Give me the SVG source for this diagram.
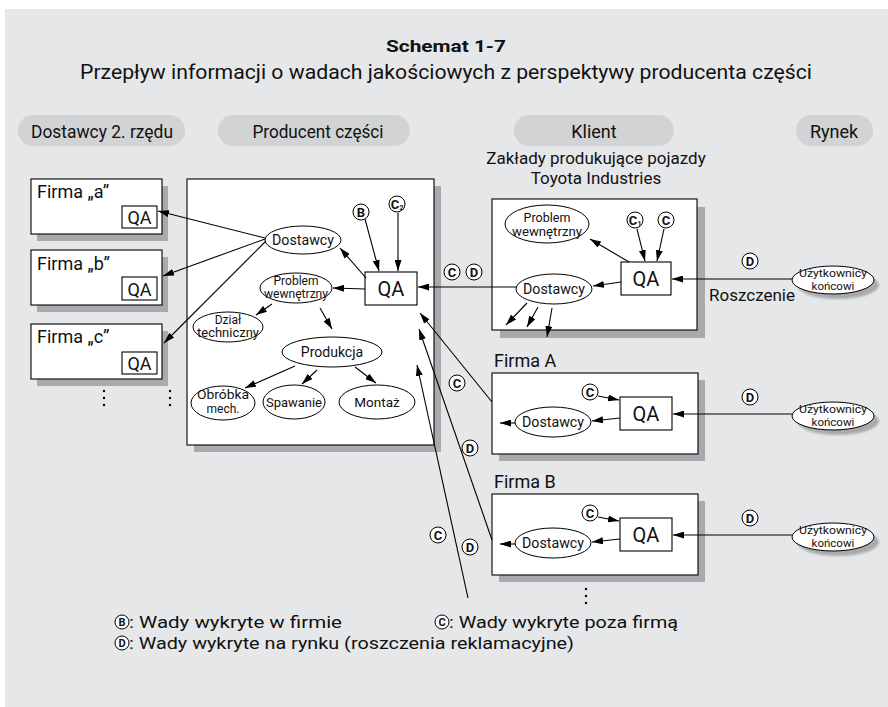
<svg xmlns="http://www.w3.org/2000/svg" width="888" height="707" viewBox="0 0 888 707">
<defs>
<marker id="ah" markerUnits="userSpaceOnUse" markerWidth="11" markerHeight="7" refX="11" refY="3.5" orient="auto">
<path d="M0,0 L11,3.5 L0,7 z" fill="#000"/>
</marker>
<filter id="blur" x="-20%" y="-20%" width="140%" height="140%"><feGaussianBlur stdDeviation="1.2"/></filter>
</defs>
<style>
text{font-family:Roboto,"Noto Sans","DejaVu Sans",sans-serif;fill:#111}
.box{fill:#fff;stroke:#000;stroke-width:1.1}
.sh{fill:#a8aaad}
.pill{fill:#d1d3d4}
.ell{fill:#fff;stroke:#000;stroke-width:1}
.ar{fill:none;stroke:#000;stroke-width:1.1;marker-end:url(#ah)}
.c{text-anchor:middle}
.lab circle{fill:#fff;stroke:#000;stroke-width:1}
.lab text{font-weight:bold;font-size:13px;text-anchor:middle}
.qa{font-size:20px;text-anchor:middle}
</style>
<rect x="5" y="9" width="883" height="698" fill="#e6e7e8"/>

<g id="title">
<text x="446" y="52" class="c" font-size="17" font-weight="bold" textLength="120" lengthAdjust="spacingAndGlyphs">Schemat 1-7</text>
<text x="446" y="79" class="c" font-size="20" textLength="732" lengthAdjust="spacingAndGlyphs">Przepływ informacji o wadach jakościowych z perspektywy producenta części</text>
</g>

<g id="headers">
<rect class="pill" x="18" y="115" width="167" height="31" rx="15.5"/>
<text x="102" y="138" class="c" font-size="18" textLength="142" lengthAdjust="spacingAndGlyphs">Dostawcy 2. rzędu</text>
<rect class="pill" x="218" y="115" width="192" height="31" rx="15.5"/>
<text x="318" y="138" class="c" font-size="18" textLength="131" lengthAdjust="spacingAndGlyphs">Producent części</text>
<rect class="pill" x="514" y="115" width="160" height="31" rx="15.5"/>
<text x="594" y="138" class="c" font-size="18">Klient</text>
<rect class="pill" x="796" y="115" width="77" height="31" rx="15.5"/>
<text x="834" y="138" class="c" font-size="18">Rynek</text>
</g>

<g id="firma-a">
<rect class="sh" x="37" y="186" width="131" height="55"/>
<rect class="box" x="31" y="179" width="131" height="55"/>
<text x="37" y="198" font-size="18">Firma „a”</text>
<rect class="box" x="122" y="206" width="35" height="22"/>
<text x="139.5" y="224" class="c" font-size="18">QA</text>
</g>
<g id="firma-b">
<rect class="sh" x="37" y="257" width="131" height="55"/>
<rect class="box" x="31" y="250" width="131" height="55"/>
<text x="37" y="270" font-size="18">Firma „b”</text>
<rect class="box" x="122" y="277" width="35" height="23"/>
<text x="139.5" y="296" class="c" font-size="18">QA</text>
</g>
<g id="firma-c">
<rect class="sh" x="37" y="331" width="131" height="55"/>
<rect class="box" x="31" y="324" width="131" height="55"/>
<text x="37" y="343" font-size="18">Firma „c”</text>
<rect class="box" x="122" y="352" width="35" height="22"/>
<text x="139.5" y="370" class="c" font-size="18">QA</text>
</g>
<g id="dots-left" fill="#000">
<circle cx="104" cy="391" r="1.2"/><circle cx="104" cy="398" r="1.2"/><circle cx="104" cy="405" r="1.2"/>
<circle cx="170" cy="391" r="1.2"/><circle cx="170" cy="398" r="1.2"/><circle cx="170" cy="405" r="1.2"/>
</g>

<g id="producent">
<rect class="sh" x="194" y="186" width="247" height="266"/>
<rect class="box" x="187" y="179" width="247" height="266"/>
</g>
<g id="p-dostawcy"><ellipse class="ell" cx="303" cy="240" rx="38" ry="14"/><text x="303" y="245" class="c" font-size="15" textLength="62" lengthAdjust="spacingAndGlyphs">Dostawcy</text></g>
<g id="p-qa"><rect class="box" x="365" y="272" width="52" height="33"/><text x="391" y="296" class="qa">QA</text></g>
<g id="p-problem"><ellipse class="ell" cx="296" cy="288" rx="36" ry="15"/><text x="296" y="285" class="c" font-size="12">Problem</text><text x="296" y="298" class="c" font-size="12" textLength="64" lengthAdjust="spacingAndGlyphs">wewnętrzny</text></g>
<g id="p-dzial"><ellipse class="ell" cx="228" cy="327" rx="35" ry="15"/><text x="228" y="324" class="c" font-size="12">Dział</text><text x="228" y="337" class="c" font-size="12" textLength="62" lengthAdjust="spacingAndGlyphs">techniczny</text></g>
<g id="p-produkcja"><ellipse class="ell" cx="332" cy="352" rx="50" ry="15"/><text x="332" y="357" class="c" font-size="14">Produkcja</text></g>
<g id="p-obrobka"><ellipse class="ell" cx="223" cy="403" rx="32" ry="17"/><text x="223" y="399" class="c" font-size="12" textLength="52" lengthAdjust="spacingAndGlyphs">Obróbka</text><text x="223" y="413" class="c" font-size="12">mech.</text></g>
<g id="p-spawanie"><ellipse class="ell" cx="294" cy="402" rx="31" ry="17"/><text x="294" y="406.5" class="c" font-size="13" textLength="56" lengthAdjust="spacingAndGlyphs">Spawanie</text></g>
<g id="p-montaz"><ellipse class="ell" cx="377" cy="402" rx="38" ry="17"/><text x="377" y="407" class="c" font-size="13.5">Montaż</text></g>

<g id="toyota-title">
<text x="596" y="164" class="c" font-size="17">Zakłady produkujące pojazdy</text>
<text x="596" y="184" class="c" font-size="17">Toyota Industries</text>
</g>
<g id="toyota">
<rect class="sh" x="500" y="207" width="205" height="131"/>
<rect class="box" x="492" y="199" width="205" height="131"/>
</g>
<g id="t-problem"><ellipse class="ell" cx="547" cy="224" rx="42" ry="19"/><text x="547" y="222" class="c" font-size="12.5">Problem</text><text x="547" y="236" class="c" font-size="12.5" textLength="70" lengthAdjust="spacingAndGlyphs">wewnętrzny</text></g>
<g id="t-qa"><rect class="box" x="621" y="262" width="50" height="33"/><text x="646" y="286" class="qa">QA</text></g>
<g id="t-dostawcy"><ellipse class="ell" cx="554" cy="289" rx="38" ry="15"/><text x="554" y="294" class="c" font-size="15" textLength="62" lengthAdjust="spacingAndGlyphs">Dostawcy</text></g>

<g id="firmaA">
<text x="494" y="367" font-size="18">Firma A</text>
<rect class="sh" x="499" y="380" width="206" height="81"/>
<rect class="box" x="492" y="373" width="206" height="81"/>
</g>
<g id="a-qa"><rect class="box" x="620" y="397" width="52" height="33"/><text x="646" y="421" class="qa">QA</text></g>
<g id="a-dostawcy"><ellipse class="ell" cx="553" cy="422" rx="38" ry="15"/><text x="553" y="427" class="c" font-size="15" textLength="62" lengthAdjust="spacingAndGlyphs">Dostawcy</text></g>

<g id="firmaB">
<text x="494" y="488" font-size="18">Firma B</text>
<rect class="sh" x="499" y="501" width="206" height="81"/>
<rect class="box" x="492" y="494" width="206" height="81"/>
</g>
<g id="b-qa"><rect class="box" x="620" y="518" width="52" height="33"/><text x="646" y="542" class="qa">QA</text></g>
<g id="b-dostawcy"><ellipse class="ell" cx="553" cy="543" rx="38" ry="15"/><text x="553" y="548" class="c" font-size="15" textLength="62" lengthAdjust="spacingAndGlyphs">Dostawcy</text></g>
<g id="dots-b" fill="#000"><circle cx="586" cy="589" r="1.2"/><circle cx="586" cy="596" r="1.2"/><circle cx="586" cy="603" r="1.2"/></g>

<g id="users-1"><ellipse cx="838" cy="285" rx="41" ry="14" fill="#a8aaad" filter="url(#blur)"/><ellipse class="ell" cx="833" cy="280" rx="41" ry="14"/><text x="833" y="277" class="c" font-size="11.5" textLength="68" lengthAdjust="spacingAndGlyphs">Użytkownicy</text><text x="833" y="290" class="c" font-size="11.5">końcowi</text></g>
<g id="users-2"><ellipse cx="838" cy="421" rx="41" ry="14" fill="#a8aaad" filter="url(#blur)"/><ellipse class="ell" cx="833" cy="416" rx="41" ry="14"/><text x="833" y="413" class="c" font-size="11.5" textLength="68" lengthAdjust="spacingAndGlyphs">Użytkownicy</text><text x="833" y="426" class="c" font-size="11.5">końcowi</text></g>
<g id="users-3"><ellipse cx="838" cy="542" rx="41" ry="14" fill="#a8aaad" filter="url(#blur)"/><ellipse class="ell" cx="833" cy="537" rx="41" ry="14"/><text x="833" y="534" class="c" font-size="11.5" textLength="68" lengthAdjust="spacingAndGlyphs">Użytkownicy</text><text x="833" y="547" class="c" font-size="11.5">końcowi</text></g>
<text x="752" y="301" class="c" font-size="17">Roszczenie</text>

<g id="connectors">
<line class="ar" x1="265" y1="238" x2="158" y2="211"/>
<line class="ar" x1="265" y1="239" x2="163" y2="276"/>
<line class="ar" x1="266" y1="241" x2="164" y2="343"/>
<line class="ar" x1="366" y1="278" x2="340" y2="248"/>
<line class="ar" x1="365" y1="219" x2="379" y2="271"/>
<line class="ar" x1="398" y1="213" x2="398" y2="271"/>
<line class="ar" x1="365" y1="289" x2="333" y2="288"/>
<line class="ar" x1="272" y1="304" x2="256" y2="315"/>
<line class="ar" x1="320" y1="308" x2="332" y2="329"/>
<line class="ar" x1="295" y1="366" x2="245" y2="388"/>
<line class="ar" x1="317" y1="370" x2="302" y2="384"/>
<line class="ar" x1="355" y1="367" x2="376" y2="383"/>
<line class="ar" x1="516" y1="287" x2="418" y2="287"/>
<line class="ar" x1="492" y1="402" x2="420" y2="313"/>
<line class="ar" x1="492" y1="540" x2="419" y2="329"/>
<line class="ar" x1="468" y1="598" x2="417" y2="365"/>
<line class="ar" x1="629" y1="262" x2="590" y2="239"/>
<line class="ar" x1="637" y1="229" x2="645" y2="261"/>
<line class="ar" x1="664" y1="229" x2="657" y2="261"/>
<line class="ar" x1="621" y1="282" x2="593" y2="286"/>
<line class="ar" x1="527" y1="303" x2="506" y2="325"/>
<line class="ar" x1="538" y1="307" x2="527" y2="327"/>
<line class="ar" x1="552" y1="308" x2="547" y2="337"/>
<line class="ar" x1="792" y1="279" x2="672" y2="279"/>
<line class="ar" x1="598" y1="396" x2="619" y2="400"/>
<line class="ar" x1="620" y1="418" x2="592" y2="421"/>
<line class="ar" x1="515" y1="423" x2="500" y2="423"/>
<line class="ar" x1="792" y1="414" x2="673" y2="414"/>
<line class="ar" x1="598" y1="517" x2="619" y2="521"/>
<line class="ar" x1="620" y1="539" x2="592" y2="542"/>
<line class="ar" x1="515" y1="544" x2="500" y2="544"/>
<line class="ar" x1="792" y1="535" x2="673" y2="535"/>
</g>

<g id="labels" class="lab">
<circle cx="361" cy="212" r="8"/><text x="361" y="216.5">B</text>
<circle cx="397" cy="204" r="8"/><text x="395" y="208.5">C</text><text x="401.5" y="210" style="font-size:7px">2</text>
<circle cx="635" cy="220" r="8"/><text x="633" y="224.5">C</text><text x="639.5" y="226" style="font-size:7px">1</text>
<circle cx="666" cy="220" r="8"/><text x="666" y="224.5">C</text>
<circle cx="452" cy="272" r="8"/><text x="452" y="276.5">C</text>
<circle cx="474" cy="272" r="8"/><text x="474" y="276.5">D</text>
<circle cx="750" cy="261" r="8"/><text x="750" y="265.5">D</text>
<circle cx="590" cy="392" r="8"/><text x="590" y="396.5">C</text>
<circle cx="750" cy="397" r="8"/><text x="750" y="401.5">D</text>
<circle cx="590" cy="513" r="8"/><text x="590" y="517.5">C</text>
<circle cx="750" cy="518" r="8"/><text x="750" y="522.5">D</text>
<circle cx="457" cy="383" r="8"/><text x="457" y="387.5">C</text>
<circle cx="470" cy="448" r="8"/><text x="470" y="452.5">D</text>
<circle cx="438" cy="535" r="8"/><text x="438" y="539.5">C</text>
<circle cx="470" cy="547" r="8"/><text x="470" y="551.5">D</text>
</g>

<g id="legend">
<g class="lab">
<circle cx="122" cy="622" r="7"/><text x="122" y="626" style="font-size:11px">B</text>
<circle cx="442" cy="622" r="7"/><text x="442" y="626" style="font-size:11px">C</text>
<circle cx="122" cy="643" r="7"/><text x="122" y="647" style="font-size:11px">D</text>
</g>
<text x="129" y="628" font-size="17" textLength="213" lengthAdjust="spacingAndGlyphs">: Wady wykryte w firmie</text>
<text x="449" y="628" font-size="17" textLength="229" lengthAdjust="spacingAndGlyphs">: Wady wykryte poza firmą</text>
<text x="129" y="649" font-size="17" textLength="445" lengthAdjust="spacingAndGlyphs">: Wady wykryte na rynku (roszczenia reklamacyjne)</text>
</g>
</svg>
